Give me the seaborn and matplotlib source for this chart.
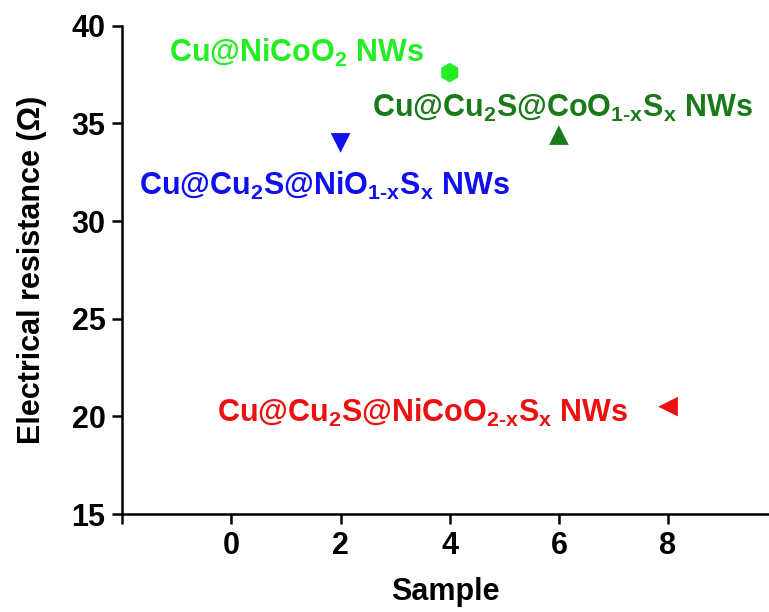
import pandas as pd
import matplotlib
matplotlib.use("Agg")
import matplotlib.pyplot as plt
import seaborn as sns

# data
samples = ["Cu@NiCoO2", "Cu@Cu2S@NiO1-xSx", "Cu@Cu2S@CoO1-xSx", "Cu@Cu2S@NiCoO2-xSx"]
sample_no = [4, 2, 6, 8]
resistance = [37.6, 34.0, 34.4, 20.5]
colors = ["#22ee22", "#1010ee", "#1a7a1a", "#ee1010"]
markers = ["h", "v", "^", "<"]
labels = [r"Cu@NiCoO$_{2}$ NWs",
          r"Cu@Cu$_{2}$S@NiO$_{1\text{-}x}$S$_{x}$ NWs",
          r"Cu@Cu$_{2}$S@CoO$_{1\text{-}x}$S$_{x}$ NWs",
          r"Cu@Cu$_{2}$S@NiCoO$_{2\text{-}x}$S$_{x}$ NWs"]
label_pos = [(-1.15, 38.16), (-1.70, 31.34), (2.58, 35.34), (-0.26, 19.71)]

df = pd.DataFrame({"Sample": sample_no, "Resistance": resistance, "name": samples})

sns.set_theme(style="ticks")
plt.rcParams["font.family"] = ["Liberation Sans", "DejaVu Sans"]
plt.rcParams["font.weight"] = "bold"
plt.rcParams["mathtext.fontset"] = "custom"
plt.rcParams["mathtext.rm"] = "Liberation Sans:bold"
plt.rcParams["mathtext.it"] = "Liberation Sans:bold"
plt.rcParams["mathtext.bf"] = "Liberation Sans:bold"
plt.rcParams["mathtext.default"] = "rm"

fig = plt.figure(figsize=(7.69, 6.12), dpi=100)
ax = fig.add_axes([0.159, 0.160, 0.841, 0.798])

sns.scatterplot(data=df, x="Sample", y="Resistance", hue="name", style="name",
                palette=dict(zip(samples, colors)), markers=dict(zip(samples, markers)),
                s=200, edgecolor="none", legend=False, ax=ax)

for lab, (tx, ty), c in zip(labels, label_pos, colors):
    ax.text(tx, ty, lab, color=c, fontsize=22, fontweight="bold",
            va="baseline", ha="left")

ax.set_xlim(-2, 9.85)
ax.set_ylim(15, 40)
ax.set_xticks([-2, 0, 2, 4, 6, 8])
ax.set_xticklabels(["", "0", "2", "4", "6", "8"])
ax.set_yticks([15, 20, 25, 30, 35, 40])
ax.tick_params(direction="out", length=7, width=1.8, labelsize=22, colors="black", pad=5)
for t in ax.get_xticklabels() + ax.get_yticklabels():
    t.set_fontweight("bold")
for side in ["left", "bottom"]:
    ax.spines[side].set_linewidth(1.8)
    ax.spines[side].set_color("black")
sns.despine(ax=ax)

ax.set_xlabel("Sample", fontsize=22, fontweight="bold", color="black", labelpad=12)
ax.set_ylabel("Electrical resistance (Ω)", fontsize=22, fontweight="bold", color="black", labelpad=18)

plt.savefig("out.png", dpi=100)
